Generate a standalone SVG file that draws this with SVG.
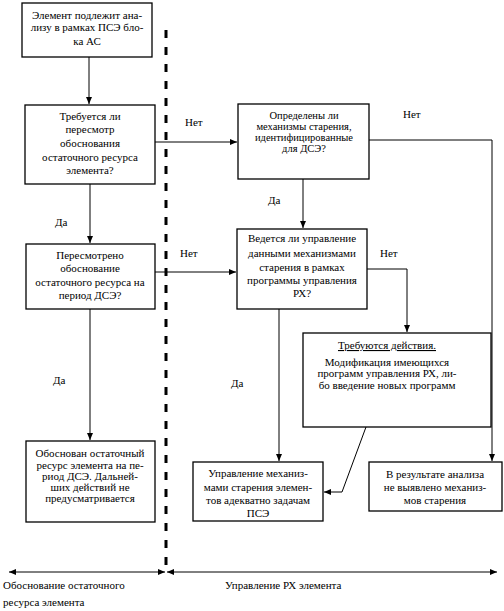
<svg xmlns="http://www.w3.org/2000/svg" width="504" height="611" viewBox="0 0 504 611">
<style>
.box{fill:#fff;stroke:#000;stroke-width:1.3}
text{font-family:'Liberation Serif','Times New Roman','DejaVu Serif',serif;font-size:11px;fill:#000}
.c{text-anchor:middle}
.s{font-size:10.5px}
.ln{fill:none;stroke:#000;stroke-width:1}
</style>
<defs>
<marker id="ah" markerWidth="8" markerHeight="8" refX="7" refY="4" orient="auto" markerUnits="userSpaceOnUse">
<path d="M0,1 L7,4 L0,7 Z" fill="#000"/>
</marker>
<marker id="as" markerWidth="8" markerHeight="8" refX="0" refY="4" orient="auto" markerUnits="userSpaceOnUse">
<path d="M7,1 L0,4 L7,7 Z" fill="#000"/>
</marker>
</defs>
<rect width="504" height="611" fill="#fff"/>
<line x1="166" y1="30" x2="166" y2="566" stroke="#000" stroke-width="3" stroke-dasharray="8,9"/>
<g id="connectors" font-family="Liberation Serif, serif">
<line class="ln" x1="89" y1="57" x2="89" y2="104" marker-end="url(#ah)"/>
<line class="ln" x1="155" y1="142" x2="237" y2="142" marker-end="url(#ah)"/>
<polyline class="ln" points="369,140 492,140 492,461" marker-end="url(#ah)"/>
<line class="ln" x1="303" y1="179" x2="303" y2="228" marker-end="url(#ah)"/>
<line class="ln" x1="90" y1="184" x2="90" y2="243" marker-end="url(#ah)"/>
<line class="ln" x1="155" y1="272" x2="236" y2="272" marker-end="url(#ah)"/>
<polyline class="ln" points="367,269 407,269 407,332" marker-end="url(#ah)"/>
<line class="ln" x1="279" y1="309" x2="279" y2="461" marker-end="url(#ah)"/>
<polyline class="ln" points="366,427 342,492 324,492" marker-end="url(#ah)"/>
<line class="ln" x1="90" y1="309" x2="90" y2="440" marker-end="url(#ah)"/>
<line class="ln" x1="9" y1="572" x2="165" y2="572" marker-start="url(#as)" marker-end="url(#ah)"/>
<line class="ln" x1="167" y1="572" x2="497" y2="572" marker-start="url(#as)" marker-end="url(#ah)"/>
<text x="185" y="126">Нет</text>
<text x="403" y="118">Нет</text>
<text x="268" y="204">Да</text>
<text x="55" y="226">Да</text>
<text x="180" y="257">Нет</text>
<text x="380" y="257">Нет</text>
<text x="231" y="387">Да</text>
<text x="53" y="384">Да</text>
</g>
<g id="n1">
<rect class="box" x="22" y="3" width="130" height="54"/>
<text class="c" x="87" y="19">Элемент подлежит ана-</text>
<text class="c" x="87" y="31">лизу в рамках ПСЭ бло-</text>
<text class="c" x="87" y="45">ка АС</text>
</g>
<g id="n2">
<rect class="box" x="25" y="105" width="130" height="79"/>
<text class="c" x="90" y="120">Требуется ли</text>
<text class="c" x="90" y="133">пересмотр</text>
<text class="c" x="90" y="147">обоснования</text>
<text class="c" x="90" y="161">остаточного ресурса</text>
<text class="c" x="90" y="174">элемента?</text>
</g>
<g id="n3">
<rect class="box" x="238" y="104" width="131" height="75"/>
<text class="c s" x="304" y="119">Определены ли</text>
<text class="c s" x="304" y="130">механизмы старения,</text>
<text class="c s" x="304" y="141">идентифицированные</text>
<text class="c s" x="304" y="152">для ДСЭ?</text>
</g>
<g id="n4">
<rect class="box" x="237" y="229" width="130" height="80"/>
<text class="c" x="302" y="242">Ведется ли управление</text>
<text class="c" x="302" y="257">данными механизмами</text>
<text class="c" x="302" y="271">старения в рамках</text>
<text class="c" x="302" y="284">программы управления</text>
<text class="c" x="302" y="297">РХ?</text>
</g>
<g id="n5">
<rect class="box" x="26" y="244" width="129" height="65"/>
<text class="c" x="90" y="259">Пересмотрено</text>
<text class="c" x="90" y="272">обоснование</text>
<text class="c" x="90" y="286">остаточного ресурса на</text>
<text class="c" x="90" y="299">период ДСЭ?</text>
</g>
<g id="n6">
<rect class="box" x="303" y="333" width="188" height="94"/>
<text class="c" x="387" y="349" text-decoration="underline">Требуются действия.</text>
<text class="c" x="387" y="366">Модификация имеющихся</text>
<text class="c" x="387" y="377">программ управления РХ, ли-</text>
<text class="c" x="387" y="389">бо введение новых программ</text>
</g>
<g id="n7">
<rect class="box" x="193" y="462" width="130" height="59"/>
<text class="c" x="258" y="477">Управление механиз-</text>
<text class="c" x="258" y="491">мами старения элемен-</text>
<text class="c" x="258" y="504">тов адекватно задачам</text>
<text class="c" x="258" y="517">ПСЭ</text>
</g>
<g id="n8">
<rect class="box" x="369" y="462" width="133" height="49"/>
<text class="c" x="435" y="478">В результате анализа</text>
<text class="c" x="435" y="491">не выявлено механиз-</text>
<text class="c" x="435" y="504">мов старения</text>
</g>
<g id="n9">
<rect class="box" x="26" y="441" width="129" height="81"/>
<text class="c" x="90" y="457">Обоснован остаточный</text>
<text class="c" x="90" y="469">ресурс элемента на пе-</text>
<text class="c" x="90" y="480">риод ДСЭ. Дальней-</text>
<text class="c" x="90" y="491">ших действий не</text>
<text class="c" x="90" y="502">предусматривается</text>
</g>
<g id="legend">
<text x="3" y="589">Обоснование остаточного</text>
<text x="3" y="606">ресурса элемента</text>
<text x="225" y="589">Управление РХ элемента</text>
</g>
</svg>
